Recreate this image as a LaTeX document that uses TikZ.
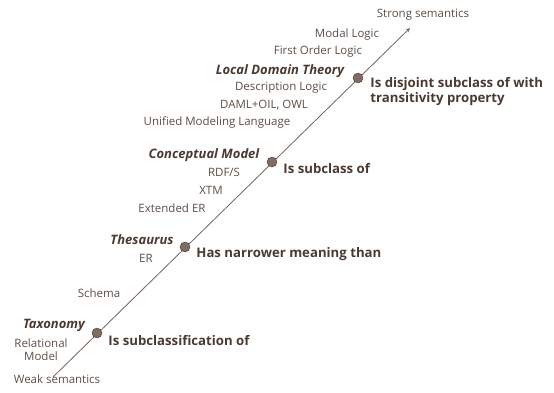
\documentclass[tikz,border=0pt]{standalone}
\usepackage{fontspec}
\setmainfont{Open Sans}
\usepackage{tikz}
\usetikzlibrary{arrows}
\usepackage{xcolor}
\definecolor{axisbrown}{HTML}{7A6A60}
\definecolor{textbrown}{HTML}{5E4E45}
\definecolor{boldbrown}{HTML}{4A3A31}
\definecolor{dotbrown}{HTML}{7F6D63}

\tikzset{
  lang/.style={text=textbrown, font=\fontsize{11.5}{13}\selectfont, inner sep=1pt},
  level/.style={text=boldbrown, font=\fontsize{13}{15}\selectfont\bfseries\itshape, inner sep=1pt},
  relation/.style={text=boldbrown, font=\fontsize{13.2}{15}\selectfont\bfseries, inner sep=1pt, anchor=west, align=left},
  dot/.style={circle, fill=dotbrown, draw=boldbrown, line width=0.4pt, minimum size=10pt, inner sep=0pt}
}

\begin{document}
\begin{tikzpicture}[x=1pt, y=-1pt, line width=0.3mm]
        \useasboundingbox (0, 0) rectangle (554, 392);

        \coordinate(W) at (53, 377);
        \coordinate(S) at (410, 28);
        \draw[->, >=stealth, axisbrown] (W) -- (S);

        \node[dot](D1) at (97, 333) {};
        \node[dot](D2) at (185, 247) {};
        \node[dot](D3) at (272, 162) {};
        \node[dot](D4) at (358, 78) {};

        \node[lang](T1) at (423, 15) {Strong semantics};
        \node[lang](T2) at (347, 35) {Modal Logic};
        \node[lang](T3) at (318, 52) {First Order Logic};
        \node[level](T4) at (280, 71) {Local Domain Theory};
        \node[lang](T5) at (281, 88) {Description Logic};
        \node[lang](T6) at (264, 105) {DAML+OIL, OWL};
        \node[lang](T7) at (217, 122) {Unified Modeling Language};
        \node[level](T8) at (204, 155) {Conceptual Model};
        \node[lang](T9) at (224, 172) {RDF/S};
        \node[lang](T10) at (211, 190) {XTM};
        \node[lang](T11) at (172, 208) {Extended ER};
        \node[level](T12) at (142, 240) {Thesaurus};
        \node[lang](T13) at (146, 258) {ER};
        \node[lang](T14) at (99, 293) {Schema};
        \node[level](T15) at (54, 325) {Taxonomy};
        \node[lang, align=center](T16) at (41, 349.5) {Relational\\Model};
        \node[lang](T17) at (57, 379) {Weak semantics};

        \node[relation](R1) at (107, 341) {Is subclassification of};
        \node[relation](R2) at (195, 254) {Has narrower meaning than};
        \node[relation](R3) at (282, 169) {Is subclass of};
        \node[relation](R4) at (369, 91.5) {Is disjoint subclass of with\\transitivity property};
      \end{tikzpicture}
\end{document}
